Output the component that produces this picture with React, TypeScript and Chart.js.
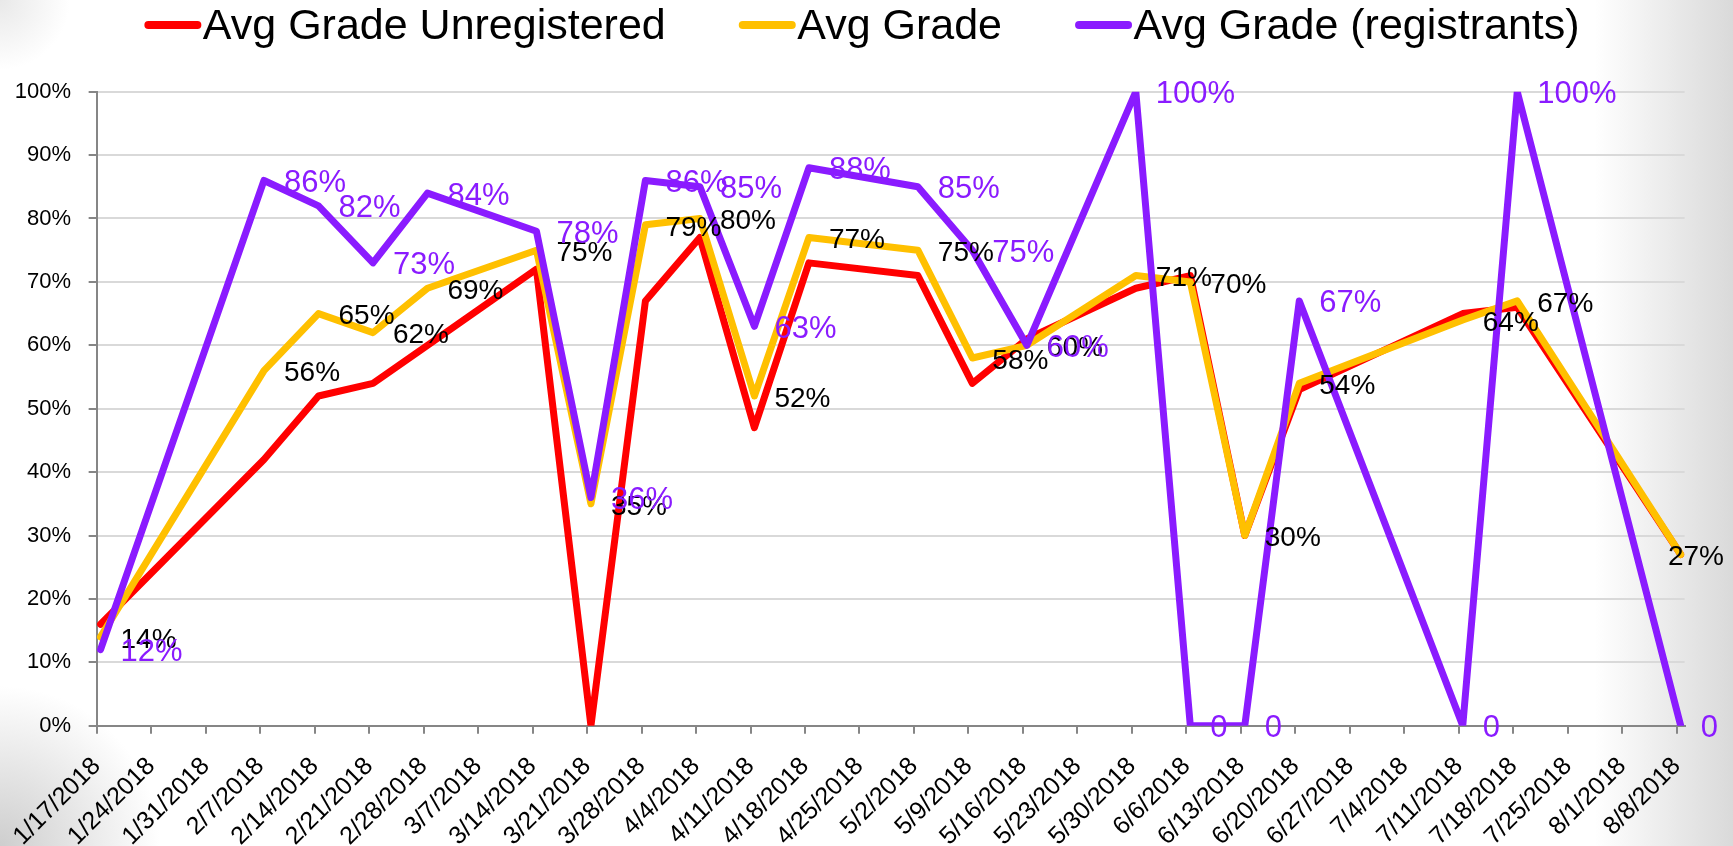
import React, { useEffect, useRef } from 'react';
import { Chart, registerables } from 'chart.js';

Chart.register(...registerables);

// ---------- data ----------
const tickLabels = [
  '1/17/2018', '1/24/2018', '1/31/2018', '2/7/2018', '2/14/2018', '2/21/2018', '2/28/2018',
  '3/7/2018', '3/14/2018', '3/21/2018', '3/28/2018', '4/4/2018', '4/11/2018', '4/18/2018',
  '4/25/2018', '5/2/2018', '5/9/2018', '5/16/2018', '5/23/2018', '5/30/2018', '6/6/2018',
  '6/13/2018', '6/20/2018', '6/27/2018', '7/4/2018', '7/11/2018', '7/18/2018', '7/25/2018',
  '8/1/2018', '8/8/2018',
];

const pointDates = [
  '1/17/2018', '2/7/2018', '2/14/2018', '2/21/2018', '2/28/2018', '3/14/2018', '3/21/2018',
  '3/28/2018', '4/4/2018', '4/11/2018', '4/18/2018', '5/2/2018', '5/9/2018', '5/16/2018',
  '5/30/2018', '6/6/2018', '6/13/2018', '6/20/2018', '7/11/2018', '7/18/2018', '8/8/2018',
];

const avgGradeUnregistered = [
  0.16, 0.42, 0.52, 0.54, 0.60, 0.72, 0.00,
  0.67, 0.77, 0.47, 0.73, 0.71, 0.54, 0.61,
  0.69, 0.71, 0.30, 0.53, 0.65, 0.66, 0.27,
];

const avgGrade = [
  0.14, 0.56, 0.65, 0.62, 0.69, 0.75, 0.35,
  0.79, 0.80, 0.52, 0.77, 0.75, 0.58, 0.60,
  0.71, 0.70, 0.30, 0.54, 0.64, 0.67, 0.27,
];

const avgGradeRegistrants = [
  0.12, 0.86, 0.82, 0.73, 0.84, 0.78, 0.36,
  0.86, 0.85, 0.63, 0.88, 0.85, 0.75, 0.60,
  1.00, 0.00, 0.00, 0.67, 0.00, 1.00, 0.00,
];

const seriesNames = ['Avg Grade Unregistered', 'Avg Grade', 'Avg Grade (registrants)'];
const seriesValues = [avgGradeUnregistered, avgGrade, avgGradeRegistrants];
const seriesColors = ['#FF0000', '#FFC000', '#8A1BFF'];
const labelColors = [null, '#000000', '#8A1BFF'];
const labelSizes = [0, 28, 31];

// ---------- helpers ----------
const FONT = "'Liberation Sans', Arial, sans-serif";
const START = Date.UTC(2018, 0, 17);
const dayOf = (s: string) => {
  const [m, d, y] = s.split('/').map(Number);
  return (Date.UTC(y, m - 1, d) - START) / 86400000;
};
const pct = (v: number) => (v === 0 ? '0' : Math.round(v * 100) + '%');

// layout constants (pixels)
const W = 1733;
const H = 846;
const PLOT_LEFT = 95.7;
const PLOT_TOP = 91.7;
const PLOT_BOTTOM = 725.7;
const PLOT_RIGHT = 1684.6;
const LEG_FONT = 43;
const LEG_TEXT_Y = 27.5;
const LEG_SWATCH_Y = 25;
const LEG_CENTER = 862;
const SWATCH_LEN = 57;
const SWATCH_TEXT_GAP = 1.5;
const LEG_ITEM_GAP = 73;
const LABEL_OFFSET = 20;
const LABEL_DY = 3;
const LABEL_RIGHT_LIMIT = W - 9;

const pointLabelPlugin = {
  id: 'pointLabels',
  afterDatasetsDraw(chart: any) {
    const ctx = chart.ctx;
    ctx.save();
    ctx.textAlign = 'left';
    ctx.textBaseline = 'middle';
    [1, 2].forEach((di) => {
      const meta = chart.getDatasetMeta(di);
      const data = chart.data.datasets[di].data;
      ctx.font = `${labelSizes[di]}px ${FONT}`;
      ctx.fillStyle = labelColors[di];
      meta.data.forEach((el: any, i: number) => {
        const text = pct(data[i].y);
        const tw = ctx.measureText(text).width;
        let x = el.x + LABEL_OFFSET;
        if (x + tw > LABEL_RIGHT_LIMIT) x = LABEL_RIGHT_LIMIT - tw;
        ctx.fillText(text, x, el.y + LABEL_DY);
      });
    });
    ctx.restore();
  },
};

const lineLegendPlugin = {
  id: 'lineLegend',
  afterDraw(chart: any) {
    const ctx = chart.ctx;
    const ds = chart.data.datasets;
    ctx.save();
    ctx.font = `${LEG_FONT}px ${FONT}`;
    ctx.textAlign = 'left';
    ctx.textBaseline = 'middle';
    const widths = ds.map((d: any) => ctx.measureText(d.label).width);
    const total =
      widths.reduce((a: number, b: number) => a + b, 0) +
      ds.length * (SWATCH_LEN + SWATCH_TEXT_GAP) +
      (ds.length - 1) * LEG_ITEM_GAP;
    let x = LEG_CENTER - total / 2;
    ds.forEach((d: any, i: number) => {
      ctx.strokeStyle = d.borderColor;
      ctx.lineWidth = 8;
      ctx.lineCap = 'round';
      ctx.beginPath();
      ctx.moveTo(x + 4, LEG_SWATCH_Y);
      ctx.lineTo(x + SWATCH_LEN - 4, LEG_SWATCH_Y);
      ctx.stroke();
      x += SWATCH_LEN + SWATCH_TEXT_GAP;
      ctx.fillStyle = '#000000';
      ctx.fillText(d.label, x, LEG_TEXT_Y);
      x += widths[i] + LEG_ITEM_GAP;
    });
    ctx.restore();
  },
};

export default function App() {
  const ref = useRef<HTMLCanvasElement | null>(null);

  useEffect(() => {
    if (!ref.current) return;
    const datasets = seriesNames.map((name, si) => ({
      label: name,
      data: pointDates.map((d, i) => ({ x: dayOf(d) + 0.5, y: seriesValues[si][i] })),
      borderColor: seriesColors[si],
      backgroundColor: seriesColors[si],
      borderWidth: 7,
      borderJoinStyle: 'round' as const,
      borderCapStyle: 'round' as const,
      pointRadius: 0,
      pointHoverRadius: 0,
      tension: 0,
      fill: false,
      order: 3 - si,
    }));

    const chart = new Chart(ref.current, {
      type: 'line',
      data: { datasets },
      plugins: [pointLabelPlugin, lineLegendPlugin],
      options: {
        animation: false,
        responsive: true,
        maintainAspectRatio: false,
        layout: { padding: { left: 0, right: W - PLOT_RIGHT, top: PLOT_TOP, bottom: 0 } },
        plugins: {
          tooltip: { enabled: false },
          legend: { display: false },
        },
        scales: {
          x: {
            type: 'linear',
            min: 0,
            max: 204,
            afterBuildTicks: (scale: any) => {
              scale.ticks = tickLabels.map((_, i) => ({ value: i * 7 }));
            },
            afterFit: (scale: any) => {
              scale.height = H - PLOT_BOTTOM;
            },
            ticks: {
              autoSkip: false,
              minRotation: 45,
              maxRotation: 45,
              padding: 18,
              color: '#000000',
              font: { family: FONT, size: 25 },
              callback: (v: any) => tickLabels[Math.round(Number(v) / 7)] ?? '',
            },
            grid: {
              drawOnChartArea: false,
              drawTicks: true,
              tickLength: 8,
              tickColor: '#868686',
              lineWidth: 2,
            },
            border: { color: '#868686', width: 2 },
          },
          y: {
            min: 0,
            max: 1,
            afterFit: (scale: any) => {
              scale.width = PLOT_LEFT;
            },
            ticks: {
              stepSize: 0.1,
              padding: 17.7,
              color: '#000000',
              font: { family: FONT, size: 22 },
              callback: (v: any) => Math.round(Number(v) * 100) + '%',
            },
            grid: {
              color: '#D9D9D9',
              lineWidth: 2,
              tickColor: '#868686',
              tickLength: 8,
            },
            border: { color: '#868686', width: 2 },
          },
        },
      },
    });
    return () => chart.destroy();
  }, []);

  return (
    <div
      style={{
        position: 'absolute',
        left: 0,
        top: 0,
        width: W,
        height: H,
        background:
          'linear-gradient(to right, rgba(255,255,255,0) 92%, rgba(205,205,205,0.75) 100%),' +
          'radial-gradient(circle at 0% 100%, rgba(185,185,185,0.7) 0px, rgba(255,255,255,0) 160px),' +
          'radial-gradient(circle at 0% 0%, rgba(210,210,210,0.5) 0px, rgba(255,255,255,0) 70px), #ffffff',
      }}
    >
      <canvas ref={ref} style={{ width: '100%', height: '100%' }} />
    </div>
  );
}
